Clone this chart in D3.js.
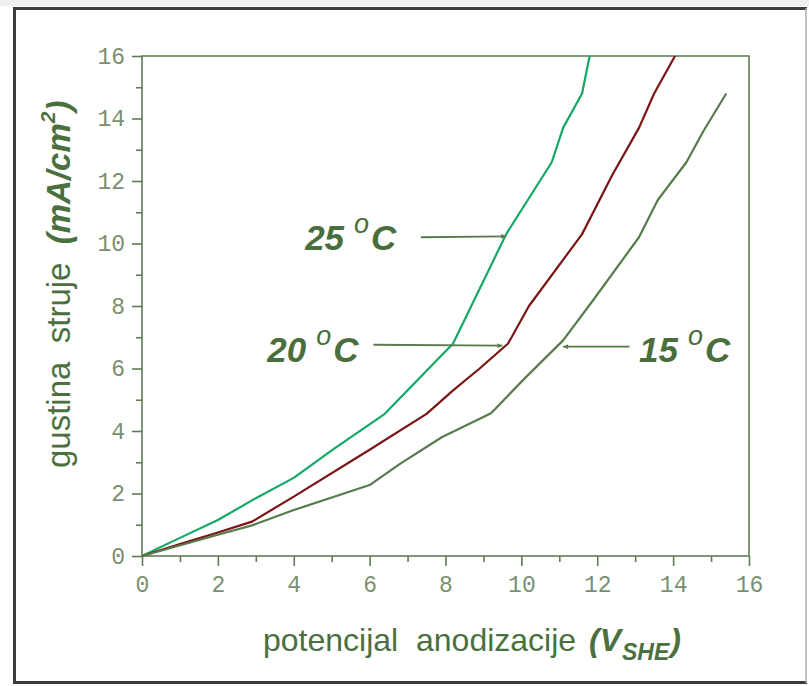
<!DOCTYPE html>
<html>
<head>
<meta charset="utf-8">
<script src="https://cdn.jsdelivr.net/npm/d3@7"></script>
<style>
  html, body { margin: 0; padding: 0; background: #fff; }
  svg { display: block; }
</style>
</head>
<body>
<svg id="chart" width="809" height="686"></svg>
<script>
'use strict'

// potencijal anodizacije (V) vs gustina struje (mA/cm2)
const temp25 = [[0, 0], [1, 0.58], [2, 1.15], [3, 1.85], [4, 2.5], [5, 3.38], [6.4, 4.55],
  [8.2, 6.8], [9.6, 10.3], [10.8, 12.6], [11.1, 13.7], [11.6, 14.8], [11.8, 16]]
const temp20 = [[0, 0], [1, 0.38], [2, 0.75], [2.9, 1.1], [4, 1.9], [6, 3.4], [7.5, 4.55],
  [8.2, 5.3], [8.9, 6.0], [9.65, 6.8], [10.2, 8.0], [11.6, 10.3], [12.4, 12.2],
  [13.1, 13.7], [13.5, 14.8], [14.05, 16]]
const temp15 = [[0, 0], [2, 0.68], [2.9, 0.98], [4, 1.47], [6, 2.27], [6.8, 2.95],
  [7.9, 3.8], [9.2, 4.57], [10.1, 5.7], [11.1, 6.9], [11.9, 8.2], [13.1, 10.2],
  [13.6, 11.4], [14.35, 12.6], [14.8, 13.6], [15.4, 14.8]]

const seriesNames = ['25', '20', '15']
const seriesColors = ['#13a865', '#7b1414', '#567c4e']

const xTicks = [0, 2, 4, 6, 8, 10, 12, 14, 16]
const yTicks = [0, 2, 4, 6, 8, 10, 12, 14, 16]

// label text position (x, y in data units) and arrow from/to (data units)
const labelPos = [[4.3, 9.8], [3.3, 6.2], [13.1, 6.2]]
const arrowFrom = [[7.35, 10.2], [6.1, 6.76], [12.85, 6.7]]
const arrowTo = [[9.6, 10.23], [9.5, 6.73], [11.1, 6.7]]

let margin = { top: 56, right: 60, bottom: 130, left: 142 }
let width = 749 - margin.left
let height = 556 - margin.top

const axisColor = '#5f7d55'
const textColor = '#4b7040'
const tickTextColor = '#7a8f70'

let svg = d3.select('#chart')

// outer frame
svg.append('rect').attr('x', 0).attr('y', 0).attr('width', 809).attr('height', 6).attr('fill', '#f0f0f0')
svg.append('path')
  .attr('d', 'M807,8.5 H14.5 V682.5 H807')
  .attr('fill', 'none').attr('stroke', '#3c3c3c').attr('stroke-width', 3)
svg.append('line').attr('x1', 806).attr('x2', 806).attr('y1', 8).attr('y2', 683)
  .attr('stroke', '#b0b0b0').attr('stroke-width', 1.5)

let g = svg.append('g').attr('transform', 'translate(' + margin.left + ',' + margin.top + ')')

let xScale = d3.scaleLinear().domain([0, 16]).range([0, width])
let yScale = d3.scaleLinear().domain([0, 16]).range([height, 0])

function styleAxis (sel) {
  sel.select('.domain').remove()
  sel.selectAll('line').attr('stroke', axisColor).attr('stroke-width', 1.6)
  sel.selectAll('text')
    .attr('fill', tickTextColor)
    .style('font-family', '"Liberation Mono", "Courier New", monospace')
    .style('font-size', '23px')
}

// minor ticks
g.append('g')
  .attr('transform', 'translate(0,' + height + ')')
  .call(d3.axisBottom(xScale).tickValues(d3.range(1, 16, 2)).tickSize(6).tickFormat(''))
  .call(styleAxis)
g.append('g')
  .call(d3.axisLeft(yScale).tickValues(d3.range(1, 16, 2)).tickSize(6).tickFormat(''))
  .call(styleAxis)

// major ticks
g.append('g')
  .attr('transform', 'translate(0,' + height + ')')
  .call(d3.axisBottom(xScale).tickValues(xTicks).tickSize(10).tickPadding(10).tickFormat(d3.format('d')))
  .call(styleAxis)
g.append('g')
  .call(d3.axisLeft(yScale).tickValues(yTicks).tickSize(10).tickPadding(7).tickFormat(d3.format('d')))
  .call(styleAxis)

// plot box
g.append('rect')
  .attr('width', width).attr('height', height)
  .attr('fill', 'none').attr('stroke', axisColor).attr('stroke-width', 1.6)

// curves
let line = d3.line()
  .x(d => xScale(d[0]))
  .y(d => yScale(d[1]))

let clip = svg.append('clipPath').attr('id', 'plotClip')
clip.append('rect').attr('x', -2).attr('y', 0).attr('width', width + 4).attr('height', height + 2)

;[temp25, temp20, temp15].forEach((data, i) => {
  g.append('path')
    .datum(data)
    .attr('clip-path', 'url(#plotClip)')
    .attr('fill', 'none')
    .attr('stroke', seriesColors[i])
    .attr('stroke-width', 2.2)
    .attr('stroke-linejoin', 'round')
    .attr('d', line)
})

// arrows
svg.append('defs').append('marker')
  .attr('id', 'arrowHead')
  .attr('viewBox', '0 0 10 10')
  .attr('refX', 10).attr('refY', 5)
  .attr('markerWidth', 9).attr('markerHeight', 5)
  .attr('markerUnits', 'userSpaceOnUse')
  .attr('orient', 'auto')
  .append('path').attr('d', 'M0,0 L10,5 L0,10 Z').attr('fill', '#577a4f')

seriesNames.forEach((name, i) => {
  g.append('line')
    .attr('x1', xScale(arrowFrom[i][0])).attr('y1', yScale(arrowFrom[i][1]))
    .attr('x2', xScale(arrowTo[i][0])).attr('y2', yScale(arrowTo[i][1]))
    .attr('stroke', '#577a4f').attr('stroke-width', 1.8)
    .attr('marker-end', 'url(#arrowHead)')

  let t = g.append('text')
    .attr('x', xScale(labelPos[i][0])).attr('y', yScale(labelPos[i][1]))
    .attr('fill', '#4a6f3d')
    .style('font-family', '"Liberation Sans", Arial, sans-serif')
    .style('font-weight', 'bold')
    .style('font-style', 'italic')
    .style('font-size', '35px')
    .style('white-space', 'pre')
  t.append('tspan').text(name)
  t.append('tspan').attr('dx', 10).attr('dy', -17).style('font-size', '27px')
    .style('font-weight', 'normal').text('o')
  t.append('tspan').attr('dx', 2).attr('dy', 17).text('C')
})

// axis titles
let xTitle = svg.append('text')
  .attr('x', 263).attr('y', 651)
  .attr('fill', textColor)
  .style('font-family', '"Liberation Sans", Arial, sans-serif')
  .style('font-size', '32px')
  .style('white-space', 'pre')
xTitle.append('tspan').text('potencijal  anodizacije ')
xTitle.append('tspan').attr('dx', 4).style('font-weight', 'bold').style('font-style', 'italic').text('(V')
xTitle.append('tspan').attr('dx', 1).attr('dy', 9).style('font-weight', 'bold').style('font-style', 'italic')
  .style('font-size', '23px').text('SHE')
xTitle.append('tspan').attr('dx', 1).attr('dy', -9).style('font-weight', 'bold').style('font-style', 'italic').text(')')

let yTitle = svg.append('text')
  .attr('transform', 'translate(70,468) rotate(-90)')
  .attr('fill', textColor)
  .style('font-family', '"Liberation Sans", Arial, sans-serif')
  .style('font-size', '33px')
  .style('white-space', 'pre')
yTitle.append('tspan').text('gustina  struje  ')
yTitle.append('tspan').style('font-weight', 'bold').style('font-style', 'italic').text('(mA/cm')
yTitle.append('tspan').attr('dy', -15).style('font-weight', 'bold').style('font-style', 'italic')
  .style('font-size', '21px').text('2')
yTitle.append('tspan').attr('dy', 15).style('font-weight', 'bold').style('font-style', 'italic').text(')')
</script>
</body>
</html>
